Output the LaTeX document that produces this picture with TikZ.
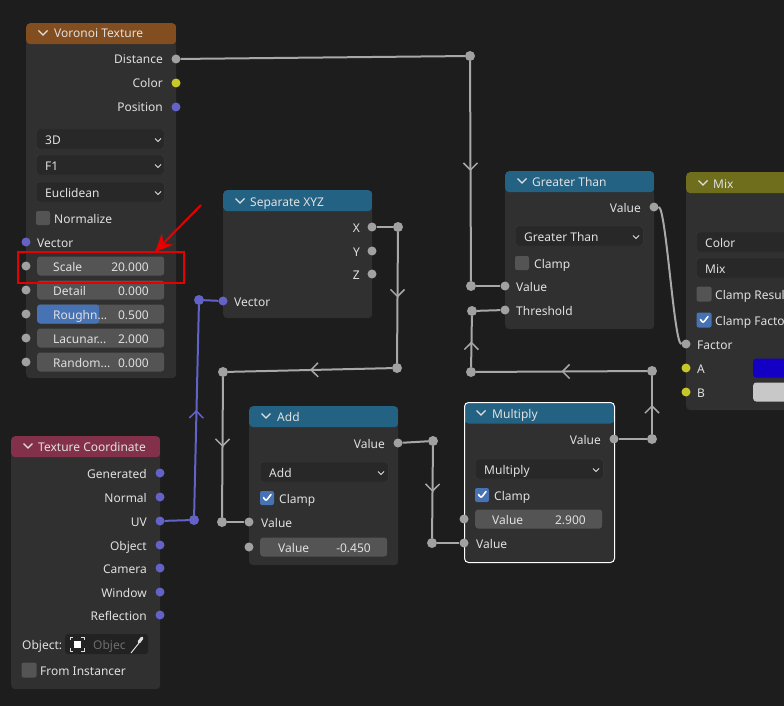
\documentclass[tikz,border=0pt]{standalone}
\usepackage{fontspec}
\setmainfont{Noto Sans}
\usetikzlibrary{arrows.meta,decorations.markings}
\definecolor{bgC}{HTML}{1D1D1D}
\definecolor{bodyC}{HTML}{303030}
\definecolor{voroC}{HTML}{824D1F}
\definecolor{convC}{HTML}{246283}
\definecolor{inC}{HTML}{83314A}
\definecolor{mixC}{HTML}{6E6E1D}
\definecolor{fieldC}{HTML}{545454}
\definecolor{dropC}{HTML}{282828}
\definecolor{dropB}{HTML}{3D3D3D}
\definecolor{objC}{HTML}{222222}
\definecolor{blueC}{HTML}{4772B3}
\definecolor{sockG}{HTML}{A1A1A1}
\definecolor{sockY}{HTML}{C7C729}
\definecolor{sockV}{HTML}{6363C7}
\definecolor{linkC}{HTML}{A8A8A8}
\definecolor{txtC}{HTML}{E0E0E0}
\definecolor{ghostC}{HTML}{6E6E6E}
\definecolor{swA}{HTML}{1400C4}
\definecolor{swB}{HTML}{C8C8C8}
\definecolor{markC}{HTML}{E60000}
\begin{document}
\begin{tikzpicture}[x=1pt,y=-1pt,
    panel/.style={fill=bodyC,rounded corners=4pt,inner sep=0,anchor=north west,
      path picture={\fill[#1] (path picture bounding box.north west) rectangle ([yshift=-21pt]path picture bounding box.north east);}},
    lbl/.style={text=txtC,inner sep=0,font=\fontsize{12}{14}\selectfont,text height=10pt,text depth=0pt,anchor=west},
    sock/.style={circle,fill=#1,inner sep=0,minimum size=9pt},
    reroute/.style={circle,fill=#1,inner sep=0,minimum size=10pt},
    link/.style={draw=#1,line width=2pt},
    flow/.style={postaction={decorate},decoration={markings,mark=at position 0.5 with {\arrow{Straight Barb[color=#1,length=7pt,width=14pt,line width=1.5pt]}}}},
    numf/.style={fill=fieldC,rounded corners=3pt,inner sep=0,minimum width=127pt,minimum height=19pt,anchor=west},
    drop/.style={fill=dropC,draw=dropB,rounded corners=3pt,inner sep=0,minimum width=128pt,minimum height=20pt,anchor=west},
    chk/.style={fill=fieldC,rounded corners=2pt,inner sep=0,minimum size=14pt},
    chkon/.style={fill=blueC,rounded corners=2pt,inner sep=0,minimum size=14pt,
      path picture={\draw[white,line width=1.6pt,line cap=round,line join=round] ([xshift=-3.5pt,yshift=0.5pt]path picture bounding box.center) -- ([xshift=-1pt,yshift=-3pt]path picture bounding box.center) -- ([xshift=4pt,yshift=3.5pt]path picture bounding box.center);}},
    chev/.pic={\draw[txtC,line width=1.1pt] (-4.5,-2.5) -- (0,2) -- (4.5,-2.5);},
    dchev/.pic={\draw[txtC,line width=0.9pt] (-3,-1.5) -- (0,1.5) -- (3,-1.5);}]
    \useasboundingbox (0,0) rectangle (784,706);
    \fill[bgC] (0,0) rectangle (784,706);
    \clip (0,0) rectangle (784,706);

    % Voronoi Texture
    \node[panel=voroC,minimum width=150pt,minimum height=355pt] (voronoi) at (26,23) {};
    \pic at (43,33) {chev};
    \node[lbl] (voronoiT) at (54,33) {Voronoi Texture};
    \node[lbl,anchor=east] (vDistL) at (163,59) {Distance};
    \node[lbl,anchor=east] (vColL) at (163,83) {Color};
    \node[lbl,anchor=east] (vPosL) at (163,107) {Position};
    \node[drop] (vDim) at (36,139) {};
    \node[lbl] (vDimL) at (45,139) {3D};
    \pic at (158,140) {dchev};
    \node[drop] (vFeat) at (36,165) {};
    \node[lbl] (vFeatL) at (45,165) {F1};
    \pic at (158,166) {dchev};
    \node[drop] (vMetr) at (36,192) {};
    \node[lbl] (vMetrL) at (45,192) {Euclidean};
    \pic at (158,193) {dchev};
    \node[chk] (vNorm) at (43,218) {};
    \node[lbl] (vNormL) at (54,218) {Normalize};
    \node[lbl] (vVecL) at (37,242) {Vector};
    \node[numf] (vScaleF) at (37,266) {};
    \node[lbl] (vScaleL) at (53,266) {Scale};
    \node[lbl,anchor=east] (vScaleV) at (149,266) {20.000};
    \node[numf] (vDetF) at (37,290) {};
    \node[lbl] (vDetL) at (53,290) {Detail};
    \node[lbl,anchor=east] (vDetV) at (149,290) {0.000};
    \node[numf,path picture={\fill[blueC] (path picture bounding box.south west) rectangle ([xshift=62pt]path picture bounding box.north west);}] (vRoughF) at (37,314) {};
    \node[lbl] (vRoughL) at (53,314) {Roughn...};
    \node[lbl,anchor=east] (vRoughV) at (149,314) {0.500};
    \node[numf] (vLacF) at (37,338) {};
    \node[lbl] (vLacL) at (53,338) {Lacunar...};
    \node[lbl,anchor=east] (vLacV) at (149,338) {2.000};
    \node[numf] (vRandF) at (37,362) {};
    \node[lbl] (vRandL) at (53,362) {Random...};
    \node[lbl,anchor=east] (vRandV) at (149,362) {0.000};
    \node[sock=sockG] (vDist) at (176,59) {};
    \node[sock=sockY] (vCol) at (176,83) {};
    \node[sock=sockV] (vPos) at (176,107) {};
    \node[sock=sockV] (vVec) at (26,242) {};
    \node[sock=sockG] (vScale) at (26,266) {};
    \node[sock=sockG] (vDet) at (26,290) {};
    \node[sock=sockG] (vRough) at (26,314) {};
    \node[sock=sockG] (vLac) at (26,338) {};
    \node[sock=sockG] (vRand) at (26,362) {};

    % Separate XYZ
    \node[panel=convC,minimum width=149pt,minimum height=128pt] (sepxyz) at (223,190) {};
    \pic at (240,201) {chev};
    \node[lbl] (sepxyzT) at (250,201) {Separate XYZ};
    \node[lbl,anchor=east] (sXL) at (360,227) {X};
    \node[lbl,anchor=east] (sYL) at (360,251) {Y};
    \node[lbl,anchor=east] (sZL) at (360,274) {Z};
    \node[lbl] (sVecL) at (234,301) {Vector};
    \node[sock=sockG] (sX) at (372,227) {};
    \node[sock=sockG] (sY) at (372,251) {};
    \node[sock=sockG] (sZ) at (372,274) {};
    \node[sock=sockV] (sVec) at (223,301) {};

    % Texture Coordinate
    \node[panel=inC,minimum width=149pt,minimum height=253pt] (texco) at (11,436) {};
    \pic at (28,446) {chev};
    \node[lbl] (texcoT) at (38,446) {Texture Coordinate};
    \node[lbl,anchor=east] (tGenL) at (147,473) {Generated};
    \node[lbl,anchor=east] (tNorL) at (147,497) {Normal};
    \node[lbl,anchor=east] (tUVL) at (147,521) {UV};
    \node[lbl,anchor=east] (tObL) at (147,545) {Object};
    \node[lbl,anchor=east] (tCamL) at (147,568) {Camera};
    \node[lbl,anchor=east] (tWinL) at (147,592) {Window};
    \node[lbl,anchor=east] (tRefL) at (147,615) {Reflection};
    \node[lbl] (tObjL) at (22,644) {Object:};
    \node[fill=objC,rounded corners=3pt,inner sep=0,minimum width=83pt,minimum height=20pt,anchor=west] (tObjF) at (65,644) {};
    \node[fill=white,inner sep=0,minimum size=7pt] (tObjI) at (77,644) {};
    \draw[txtC,line width=0.8pt] (70,640) -- (70,637) -- (73,637) (81,637) -- (84,637) -- (84,640) (84,648) -- (84,651) -- (81,651) (73,651) -- (70,651) -- (70,648);
    \node[lbl,text=ghostC] (tObjG) at (93,644) {Objec};
    \draw[txtC,line width=1pt] (131,653) -- (139,643);
    \draw[txtC,line width=3pt,line cap=round] (139,642) -- (142,638);
    \node[chk,minimum size=15pt] (tInst) at (29,670) {};
    \node[lbl] (tInstL) at (40,670) {From Instancer};
    \node[sock=sockV] (tGen) at (160,473) {};
    \node[sock=sockV] (tNor) at (160,497) {};
    \node[sock=sockV] (tUV) at (160,521) {};
    \node[sock=sockV] (tOb) at (160,545) {};
    \node[sock=sockV] (tCam) at (160,568) {};
    \node[sock=sockV] (tWin) at (160,592) {};
    \node[sock=sockV] (tRef) at (160,615) {};

    % Add
    \node[panel=convC,minimum width=149pt,minimum height=159pt] (add) at (249,406) {};
    \pic at (266,416) {chev};
    \node[lbl] (addT) at (277,416) {Add};
    \node[lbl,anchor=east] (aOutL) at (385,443) {Value};
    \node[drop] (aOp) at (260,472) {};
    \node[lbl] (aOpL) at (269,472) {Add};
    \pic at (381,473) {dchev};
    \node[chkon] (aClamp) at (267,498) {};
    \node[lbl] (aClampL) at (279,498) {Clamp};
    \node[lbl] (aIn1L) at (261,522) {Value};
    \node[numf] (aIn2F) at (260,547) {};
    \node[lbl] (aIn2L) at (278,547) {Value};
    \node[lbl,anchor=east] (aIn2V) at (371,547) {-0.450};
    \node[sock=sockG] (aOut) at (398,443) {};
    \node[sock=sockG] (aIn1) at (249,522) {};
    \node[sock=sockG] (aIn2) at (249,547) {};

    % Multiply
    \node[panel=convC,draw=white,line width=1pt,minimum width=150pt,minimum height=160pt] (multiply) at (464,402) {};
    \pic at (481,413) {chev};
    \node[lbl] (multiplyT) at (492,413) {Multiply};
    \node[lbl,anchor=east] (mOutL) at (601,439) {Value};
    \node[drop] (mOp) at (475,469) {};
    \node[lbl] (mOpL) at (484,469) {Multiply};
    \pic at (596,470) {dchev};
    \node[chkon] (mClamp) at (482,495) {};
    \node[lbl] (mClampL) at (494,495) {Clamp};
    \node[numf] (mIn1F) at (475,519) {};
    \node[lbl] (mIn1L) at (492,519) {Value};
    \node[lbl,anchor=east] (mIn1V) at (586,519) {2.900};
    \node[lbl] (mIn2L) at (476,543) {Value};
    \node[sock=sockG] (mOut) at (614,439) {};
    \node[sock=sockG] (mIn1) at (464,519) {};
    \node[sock=sockG] (mIn2) at (464,543) {};

    % Greater Than
    \node[panel=convC,minimum width=149pt,minimum height=158pt] (greater) at (505,171) {};
    \pic at (522,181) {chev};
    \node[lbl] (greaterT) at (532,181) {Greater Than};
    \node[lbl,anchor=east] (gOutL) at (641,207) {Value};
    \node[drop] (gOp) at (515,236) {};
    \node[lbl] (gOpL) at (524,236) {Greater Than};
    \pic at (636,237) {dchev};
    \node[chk] (gClamp) at (522,263) {};
    \node[lbl] (gClampL) at (534,263) {Clamp};
    \node[lbl] (gIn1L) at (516,286) {Value};
    \node[lbl] (gIn2L) at (516,310) {Threshold};
    \node[sock=sockG] (gOut) at (654,207) {};
    \node[sock=sockG] (gIn1) at (505,286) {};
    \node[sock=sockG] (gIn2) at (505,310) {};

    % Mix
    \node[panel=mixC,minimum width=150pt,minimum height=238pt] (mix) at (686,172) {};
    \pic at (703,183) {chev};
    \node[lbl] (mixT) at (713,183) {Mix};
    \node[drop] (mixType) at (696,242) {};
    \node[lbl] (mixTypeL) at (705,242) {Color};
    \node[drop] (mixBlend) at (696,268) {};
    \node[lbl] (mixBlendL) at (705,268) {Mix};
    \node[chk,minimum size=15pt] (mixCR) at (704,294) {};
    \node[lbl] (mixCRL) at (715,294) {Clamp Result};
    \node[chkon,minimum size=15pt] (mixCF) at (704,320) {};
    \node[lbl] (mixCFL) at (715,320) {Clamp Factor};
    \node[lbl] (mixFL) at (697,344) {Factor};
    \node[lbl] (mixAL) at (697,368) {A};
    \node[lbl] (mixBL) at (697,392) {B};
    \node[fill=swA,rounded corners=3pt,inner sep=0,minimum width=80pt,minimum height=19pt,anchor=west] (mixAS) at (753,368) {};
    \node[fill=swB,rounded corners=3pt,inner sep=0,minimum width=80pt,minimum height=19pt,anchor=west] (mixBS) at (753,392) {};
    \node[sock=sockG] (mixF) at (686,344) {};
    \node[sock=sockY] (mixA) at (686,368) {};
    \node[sock=sockY] (mixB) at (686,392) {};

    % reroutes
    \node[reroute=sockG] (r1) at (470,56) {};
    \node[reroute=sockG] (r2) at (471,286) {};
    \node[reroute=sockG] (r3) at (398,227) {};
    \node[reroute=sockG] (r4) at (397,368) {};
    \node[reroute=sockG] (r5) at (223,372) {};
    \node[reroute=sockG] (r6) at (222,522) {};
    \node[reroute=sockG] (r7) at (433,441) {};
    \node[reroute=sockG] (r8) at (432,543) {};
    \node[reroute=sockG] (r9) at (652,439) {};
    \node[reroute=sockG] (r10) at (652,371) {};
    \node[reroute=sockG] (r11) at (471,372) {};
    \node[reroute=sockG] (r12) at (472,311) {};
    \node[reroute=sockV] (r13) at (194,520) {};
    \node[reroute=sockV] (r14) at (199,300) {};

    % links
    \draw[link=linkC] (vDist) -- (r1);
    \draw[link=linkC,flow=linkC] (r1) -- (r2);
    \draw[link=linkC] (r2) -- (gIn1);
    \draw[link=linkC] (sX) -- (r3);
    \draw[link=linkC,flow=linkC] (r3) -- (r4);
    \draw[link=linkC,flow=linkC] (r4) -- (r5);
    \draw[link=linkC,flow=linkC] (r5) -- (r6);
    \draw[link=linkC] (r6) -- (aIn1);
    \draw[link=linkC] (aOut) -- (r7);
    \draw[link=linkC,flow=linkC] (r7) -- (r8);
    \draw[link=linkC] (r8) -- (mIn2);
    \draw[link=linkC] (mOut) -- (r9);
    \draw[link=linkC,flow=linkC] (r9) -- (r10);
    \draw[link=linkC,flow=linkC] (r10) -- (r11);
    \draw[link=linkC,flow=linkC] (r11) -- (r12);
    \draw[link=linkC] (r12) -- (gIn2);
    \draw[link=sockV] (tUV) -- (r13);
    \draw[link=sockV,flow=sockV] (r13) -- (r14);
    \draw[link=sockV] (r14) -- (sVec);
    \draw[link=linkC] (gOut) .. controls +(12,0) and +(-12,0) .. (mixF);

    % red marking
    \node[draw=markC,line width=2pt,inner sep=0,minimum width=166pt,minimum height=31pt,anchor=north west] (scaleBox) at (17,251) {};
    \coordinate (arrowTail) at (201,205);
    \coordinate (arrowTip) at (155,252);
    \draw[markC,line width=2pt,-{Stealth[length=18pt,width=16pt]}] (arrowTail) -- (arrowTip);
\end{tikzpicture}
\end{document}
